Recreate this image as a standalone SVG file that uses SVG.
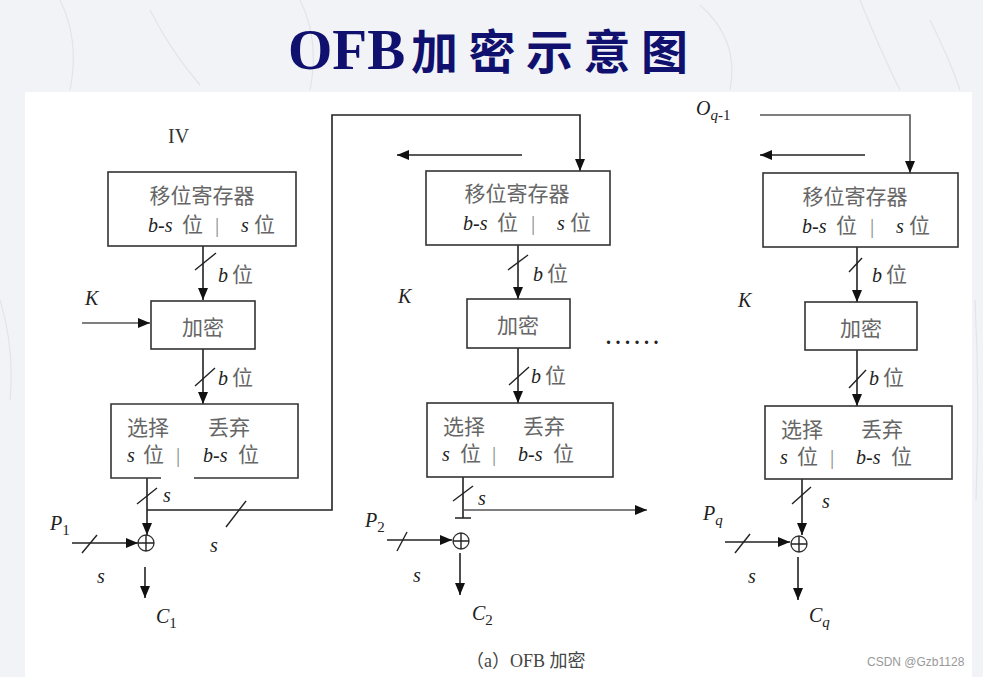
<svg xmlns="http://www.w3.org/2000/svg" width="983" height="677" viewBox="0 0 983 677">
<defs>
<marker id="ah" viewBox="0 0 12 10" refX="12" refY="5" markerWidth="12" markerHeight="10" markerUnits="userSpaceOnUse" orient="auto"><path d="M0,0 L12,5 L0,10 z" fill="#111"/></marker>
</defs>
<style>
.box{fill:#fff;stroke:#333;stroke-width:1.6}
.ln{fill:none;stroke:#222;stroke-width:1.6}
.gl{fill:none;stroke:#555;stroke-width:1.6}
.sl{fill:none;stroke:#222;stroke-width:1.4}
.arr{marker-end:url(#ah)}
.cn{font-family:"Liberation Serif","Noto Sans CJK SC",serif;font-size:21px;fill:#666}
.bar{font-family:"Liberation Serif",serif;font-size:21px;fill:#888}
.it{font-family:"Liberation Serif",serif;font-style:italic;font-size:20px;fill:#222}
.rm{font-family:"Liberation Serif",serif;font-size:20px;fill:#333}
.sub{font-family:"Liberation Serif",serif;font-size:15px;fill:#222}
.xor{fill:#fff;stroke:#333;stroke-width:1.3}
</style>
<rect x="0" y="0" width="983" height="677" fill="#f2f3f7"/>
<g fill="none" stroke="#e2e4ea" stroke-width="1.2">
<path d="M60,0 Q80,40 70,90"/><path d="M150,10 Q170,50 200,85"/><path d="M300,0 Q320,40 310,90"/><path d="M700,5 Q740,40 730,90"/><path d="M860,0 Q880,50 900,90"/><path d="M930,20 Q950,60 960,90"/><path d="M0,300 Q15,350 10,400"/><path d="M975,300 Q980,400 976,500"/>
</g>
<rect x="25" y="92" width="947" height="585" fill="#fff"/>
<text y="69" fill="#10106e" font-weight="bold"><tspan x="288" font-family="Liberation Serif,serif" font-size="57">OFB</tspan><tspan x="411" font-family="Noto Sans CJK SC,sans-serif" font-size="47" letter-spacing="10.5">加密示意图</tspan></text>

<g id="conn">
<path class="ln arr" d="M203,246 V300"/><path class="sl" d="M195,270 L216,253"/>
<path class="gl arr" d="M82,323 H150"/>
<path class="ln arr" d="M203,349 V404"/><path class="sl" d="M195,386 L215,368"/>
<path class="ln arr" d="M147,478 V535"/><path class="sl" d="M137,504 L157,488"/>
<path class="ln arr" d="M147,510 H332 V115 H580 V171"/><path class="sl" d="M226,527 L246,501"/>
<path class="ln arr" d="M72,543 H138"/><path class="sl" d="M82,553 L97,535"/>
<path class="ln arr" d="M145,567 V598"/>

<path class="ln arr" d="M522,155 H397"/>
<path class="ln arr" d="M518,245 V299"/><path class="sl" d="M508,270 L528,255"/>
<path class="ln arr" d="M518,348 V403"/><path class="sl" d="M509,385 L529,367"/>
<path class="ln" d="M463,477 V518 M455,518 H471"/><path class="sl" d="M453,501 L473,486"/>
<path class="gl arr" d="M463,510 H647"/>
<path class="ln arr" d="M387,540 H452"/><path class="sl" d="M397,551 L407,532"/>
<path class="ln arr" d="M460,553 V595"/>

<path class="gl arr" d="M760,115 H910 V173"/>
<path class="ln arr" d="M865,155 H760"/>
<path class="ln arr" d="M857,247 V302"/><path class="sl" d="M849,272 L862,258"/>
<path class="ln arr" d="M857,350 V406"/><path class="sl" d="M849,388 L866,370"/>
<path class="ln arr" d="M802,479 V535"/><path class="sl" d="M792,504 L811,487"/>
<path class="ln arr" d="M725,542 H790"/><path class="sl" d="M735,553 L750,534"/>
<path class="ln arr" d="M798,557 V600"/>
</g>

<g id="iv"><text class="rm" x="168" y="143">IV</text></g>

<g id="shift1">
<rect class="box" x="108" y="172" width="188" height="74"/>
<text class="cn" x="202" y="203" text-anchor="middle">移位寄存器</text>
<text class="it" x="148" y="232">b-s</text><text class="cn" x="182" y="232">位</text><text class="bar" x="215" y="232">|</text><text class="it" x="241" y="232">s</text><text class="cn" x="254" y="232">位</text>
</g>
<g id="enc1"><rect class="box" x="151" y="301" width="104" height="48"/><text class="cn" x="203" y="335" text-anchor="middle">加密</text></g>
<g id="sel1">
<path class="box" d="M161,478 H111 V404 H298 V478 H194"/>
<text class="cn" x="127" y="435">选择</text><text class="cn" x="208" y="435">丢弃</text>
<text class="it" x="127" y="462">s</text><text class="cn" x="143" y="462">位</text><text class="bar" x="176" y="462">|</text><text class="it" x="203" y="462">b-s</text><text class="cn" x="238" y="462">位</text>
</g>
<g id="xor1"><circle class="xor" cx="146" cy="543" r="8"/><path class="sl" d="M138,543 H154 M146,535 V551" stroke-width="1.2"/></g>

<g id="shift2">
<rect class="box" x="426" y="171" width="184" height="74"/>
<text class="cn" x="517" y="201" text-anchor="middle">移位寄存器</text>
<text class="it" x="463" y="230">b-s</text><text class="cn" x="497" y="230">位</text><text class="bar" x="531" y="230">|</text><text class="it" x="557" y="230">s</text><text class="cn" x="570" y="230">位</text>
</g>
<g id="enc2"><rect class="box" x="467" y="299" width="103" height="49"/><text class="cn" x="518" y="333" text-anchor="middle">加密</text></g>
<g id="sel2">
<rect class="box" x="427" y="403" width="186" height="74"/>
<text class="cn" x="443" y="434">选择</text><text class="cn" x="523" y="434">丢弃</text>
<text class="it" x="442" y="461">s</text><text class="cn" x="460" y="461">位</text><text class="bar" x="492" y="461">|</text><text class="it" x="518" y="461">b-s</text><text class="cn" x="553" y="461">位</text>
</g>
<g id="xor2"><circle class="xor" cx="461" cy="541" r="8"/><path class="sl" d="M453,541 H469 M461,533 V549" stroke-width="1.2"/></g>

<g id="shift3">
<rect class="box" x="763" y="173" width="195" height="74"/>
<text class="cn" x="855" y="204" text-anchor="middle">移位寄存器</text>
<text class="it" x="802" y="233">b-s</text><text class="cn" x="836" y="233">位</text><text class="bar" x="870" y="233">|</text><text class="it" x="896" y="233">s</text><text class="cn" x="909" y="233">位</text>
</g>
<g id="enc3"><rect class="box" x="805" y="302" width="112" height="48"/><text class="cn" x="861" y="336" text-anchor="middle">加密</text></g>
<g id="sel3">
<rect class="box" x="765" y="406" width="187" height="73"/>
<text class="cn" x="781" y="437">选择</text><text class="cn" x="861" y="437">丢弃</text>
<text class="it" x="780" y="464">s</text><text class="cn" x="797" y="464">位</text><text class="bar" x="830" y="464">|</text><text class="it" x="856" y="464">b-s</text><text class="cn" x="891" y="464">位</text>
</g>
<g id="xor3"><circle class="xor" cx="799" cy="544" r="8"/><path class="sl" d="M791,544 H807 M799,536 V552" stroke-width="1.2"/></g>

<g id="labels">
<text class="it" x="218" y="282">b</text><text class="cn" x="232" y="282">位</text>
<text class="it" x="218" y="385">b</text><text class="cn" x="232" y="385">位</text>
<text class="it" x="533" y="281">b</text><text class="cn" x="547" y="281">位</text>
<text class="it" x="531" y="383">b</text><text class="cn" x="545" y="383">位</text>
<text class="it" x="872" y="282">b</text><text class="cn" x="886" y="282">位</text>
<text class="it" x="869" y="385">b</text><text class="cn" x="883" y="385">位</text>
<text class="it" x="163" y="502">s</text><text class="it" x="210" y="552">s</text><text class="it" x="97" y="583">s</text>
<text class="it" x="478" y="505">s</text><text class="it" x="413" y="582">s</text>
<text class="it" x="822" y="508">s</text><text class="it" x="748" y="583">s</text>
<text class="it" x="85" y="305">K</text><text class="it" x="398" y="303">K</text><text class="it" x="738" y="307">K</text>
<text class="it" x="50" y="530">P<tspan class="sub" font-style="normal" dy="5">1</tspan></text>
<text class="it" x="365" y="527">P<tspan class="sub" font-style="normal" dy="5">2</tspan></text>
<text class="it" x="703" y="520">P<tspan class="sub" font-style="italic" dy="5">q</tspan></text>
<text class="it" x="156" y="623">C<tspan class="sub" font-style="normal" dy="5">1</tspan></text>
<text class="it" x="472" y="620">C<tspan class="sub" font-style="normal" dy="5">2</tspan></text>
<text class="it" x="809" y="622">C<tspan class="sub" font-style="italic" dy="5">q</tspan></text>
<text class="it" x="696" y="115">O<tspan class="sub" font-style="italic" dy="5">q</tspan><tspan class="sub" font-style="normal">-1</tspan></text>
<text x="606" y="344" font-family="Liberation Serif,serif" font-size="20" font-weight="bold" fill="#222" letter-spacing="4.5">......</text>
<text x="466" y="667" font-family="Liberation Serif,'Noto Sans CJK SC',serif" font-size="18" fill="#444">（a）OFB 加密</text>
<text x="867" y="666" font-family="Liberation Sans,sans-serif" font-size="12" fill="#999">CSDN @Gzb1128</text>
</g>
</svg>
